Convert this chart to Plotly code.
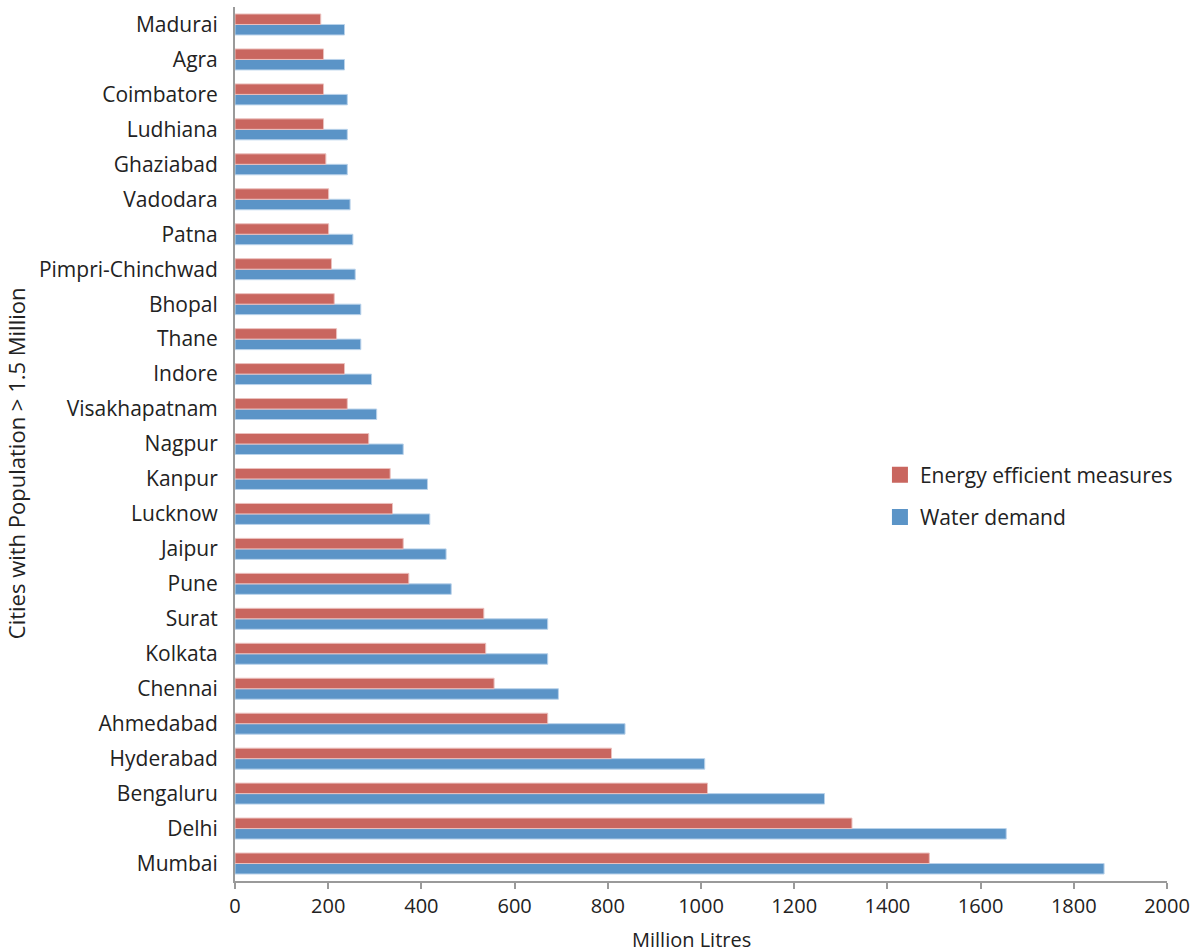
import plotly.graph_objects as go

cities = ["Mumbai", "Delhi", "Bengaluru", "Hyderabad", "Ahmedabad", "Chennai", "Kolkata",
          "Surat", "Pune", "Jaipur", "Lucknow", "Kanpur", "Nagpur", "Visakhapatnam", "Indore",
          "Thane", "Bhopal", "Pimpri-Chinchwad", "Patna", "Vadodara", "Ghaziabad", "Ludhiana",
          "Coimbatore", "Agra", "Madurai"]
energy = [1490, 1324, 1014, 808, 671, 556, 538, 534, 373, 361, 338, 333, 287, 241, 235,
          218, 213, 207, 201, 201, 195, 190, 190, 190, 184]
water = [1865, 1655, 1265, 1008, 837, 694, 671, 671, 464, 453, 418, 413, 361, 304, 293,
         270, 270, 258, 253, 247, 241, 241, 241, 235, 235]
x_ticks = [0, 200, 400, 600, 800, 1000, 1200, 1400, 1600, 1800, 2000]

RED = "#C9665F"
BLUE = "#5B94C7"
FONT = "Open Sans"

fig = go.Figure()
fig.add_trace(go.Bar(
    y=cities, x=water, orientation="h", name="Water demand",
    marker=dict(color=BLUE, line=dict(color="#B9D2EA", width=1)),
    legendgroup="w", showlegend=False,
))
fig.add_trace(go.Bar(
    y=cities, x=energy, orientation="h", name="Energy efficient measures",
    marker=dict(color=RED, line=dict(color="#EBC0BE", width=1)),
    legendgroup="e", showlegend=False,
))
# legend entries with larger square swatches
fig.add_trace(go.Scatter(
    x=[None], y=[None], mode="markers", name="Energy efficient measures",
    marker=dict(symbol="square", size=22, color=RED), legendgroup="e", legendrank=1,
))
fig.add_trace(go.Scatter(
    x=[None], y=[None], mode="markers", name="Water demand",
    marker=dict(symbol="square", size=22, color=BLUE), legendgroup="w", legendrank=2,
))

fig.update_layout(
    width=1196, height=952,
    margin=dict(l=235, r=29, t=7, b=71),
    plot_bgcolor="white", paper_bgcolor="white",
    barmode="group", bargap=0.4, bargroupgap=0,
    font=dict(family=FONT, color="#222222", size=21),
    legend=dict(x=0.692, y=0.488, xanchor="left", yanchor="top",
                font=dict(size=21, color="#222222"), tracegroupgap=12,
                bgcolor="rgba(0,0,0,0)"),
    xaxis=dict(
        range=[0, 2000], tickvals=x_ticks, ticktext=[str(v) for v in x_ticks],
        ticks="outside", ticklen=6, tickwidth=2, tickcolor="#9A9A9A",
        showline=True, linecolor="#9A9A9A", linewidth=2, showgrid=False, zeroline=False,
        tickfont=dict(size=20, family="Liberation Sans Narrow, " + FONT),
    ),
    yaxis=dict(
        showline=True, linecolor="#9A9A9A", linewidth=2, showgrid=False,
        ticks="", ticklabelstandoff=11,
        tickfont=dict(size=21),
    ),
    annotations=[
        dict(
            text="Cities with Population > 1.5 Million", textangle=-90,
            xref="paper", yref="paper", x=-0.235, y=0.478,
            xanchor="center", yanchor="middle", showarrow=False,
            font=dict(size=22, color="#222222"),
        ),
        dict(
            text="Million Litres",
            xref="paper", yref="paper", x=0.490, y=-0.0675,
            xanchor="center", yanchor="middle", showarrow=False,
            font=dict(size=20, color="#222222"),
        ),
    ],
)

fig.write_html("out.html")
